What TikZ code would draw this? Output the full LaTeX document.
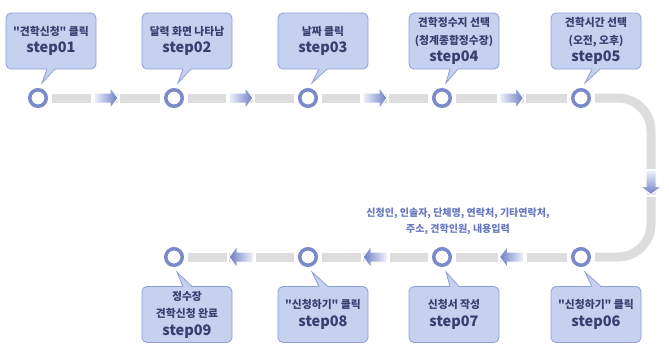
\documentclass[tikz,border=0pt]{standalone}
\usepackage{fontspec}
\setmainfont{Noto Sans CJK KR}[Ligatures=TeXOff]
\usetikzlibrary{calc}
\definecolor{boxfill}{HTML}{C6D1EF}
\definecolor{boxline}{HTML}{8E9ED6}
\definecolor{circ}{HTML}{7A89C9}
\definecolor{txt}{HTML}{363F6F}
\definecolor{ann}{HTML}{6677C0}
\definecolor{barg}{HTML}{DDDDDD}
\definecolor{alight}{HTML}{F0F2FB}
\definecolor{ablue}{HTML}{6B7DC4}
\newcommand\stplabel[1]{{\fontsize{14.5}{17}\selectfont\bfseries #1}}
\tikzset{
  box/.style={draw=boxline, fill=boxfill, rounded corners=5pt, minimum width=90pt,
    minimum height=56pt, inner sep=0pt, align=center, text=txt,
    font=\fontsize{10.8}{17.5}\selectfont\bfseries, line width=0.8pt},
  dot/.style={circle, draw=circ, line width=3.5pt, fill=white, minimum size=16.5pt, inner sep=0pt},
  bar/.style={draw=barg, line width=9pt, shorten <=4pt, shorten >=4pt},
  ptrfill/.style={fill=boxfill},
  ptrline/.style={draw=boxline, line width=0.8pt, line join=miter},
  rarrow/.pic={
    \fill[white] (-15,-5.5) rectangle (-12,5.5);
    \fill[white] (12,-5.5) rectangle (14,5.5);
    \path[left color=alight, right color=ablue, draw=white, line width=1pt]
      (-12,-5) -- (4,-5) -- (4,-11) -- (12,0) -- (4,11) -- (4,5) -- (-12,5) -- cycle;
  },
  larrow/.pic={
    \fill[white] (15,-5.5) rectangle (12,5.5);
    \fill[white] (-12,-5.5) rectangle (-14,5.5);
    \path[left color=ablue, right color=alight, draw=white, line width=1pt]
      (12,-5) -- (-4,-5) -- (-4,-11) -- (-12,0) -- (-4,11) -- (-4,5) -- (12,5) -- cycle;
  },
  darrow/.pic={
    \fill[white] (-5.5,14) rectangle (5.5,12);
    \fill[white] (-5.5,-12) rectangle (5.5,-14);
    \path[top color=alight, bottom color=ablue, draw=white, line width=1pt]
      (-5,12) -- (-5,-4) -- (-11,-4) -- (0,-12) -- (11,-4) -- (5,-4) -- (5,12) -- cycle;
  }
}
\begin{document}
\begin{tikzpicture}[x=1pt,y=1pt]
\useasboundingbox (0,0) rectangle (669,-360);

% circles
\node[dot] (c1) at (38,-98) {};
\node[dot] (c2) at (174,-98) {};
\node[dot] (c3) at (308,-98) {};
\node[dot] (c4) at (442,-98) {};
\node[dot] (c5) at (581,-98) {};
\node[dot] (c6) at (581,-257) {};
\node[dot] (c7) at (442,-257) {};
\node[dot] (c8) at (308,-257) {};
\node[dot] (c9) at (174,-257) {};
\coordinate (k1) at (651,-98);
\coordinate (k2) at (651,-257);

% track
\draw[bar] (c1) -- (c2);
\draw[bar] (c2) -- (c3);
\draw[bar] (c3) -- (c4);
\draw[bar] (c4) -- (c5);
\draw[bar, rounded corners=33pt] (c5) -- (k1) -- (k2) -- (c6);
\draw[bar] (c6) -- (c7);
\draw[bar] (c7) -- (c8);
\draw[bar] (c8) -- (c9);

% arrows
\pic at ($(c1)!0.5!(c2)$) {rarrow};
\pic at ($(c2)!0.5!(c3)$) {rarrow};
\pic at ($(c3)!0.5!(c4)$) {rarrow};
\pic at ($(c4)!0.5!(c5)$) {rarrow};
\pic at (651,-182.5) {darrow};
\pic at ($(c6)!0.5!(c7)$) {larrow};
\pic at ($(c7)!0.5!(c8)$) {larrow};
\pic at ($(c8)!0.5!(c9)$) {larrow};

% boxes top
\node[box] (b1) at (51,-41) {"견학신청" 클릭\\\stplabel{step01}};
\node[box] (b2) at (187,-41) {달력 화면 나타남\\\stplabel{step02}};
\node[box] (b3) at (323,-41) {날짜 클릭\\\stplabel{step03}};
\node[box] (b4) at (454,-41) {견학정수지 선택\\(청계종합정수장)\\\stplabel{step04}};
\node[box] (b5) at (596,-41) {견학시간 선택\\(오전, 오후)\\\stplabel{step05}};
% boxes bottom
\node[box] (b6) at (596,-314.5) {"신청하기" 클릭\\\stplabel{step06}};
\node[box] (b7) at (454,-314.5) {신청서 작성\\\stplabel{step07}};
\node[box] (b8) at (323,-314.5) {"신청하기" 클릭\\\stplabel{step08}};
\node[box] (b9) at (187,-314.5) {정수장\\견학신청 완료\\\stplabel{step09}};

% pointer tips
\coordinate (t1) at (42,-83);
\coordinate (t2) at (178,-83);
\coordinate (t3) at (312,-83);
\coordinate (t4) at (446,-83);
\coordinate (t5) at (585,-83);
\coordinate (t6) at (585,-272);
\coordinate (t7) at (446,-272);
\coordinate (t8) at (312,-272);
\coordinate (t9) at (177,-272);

\foreach \b/\t in {b1/t1,b2/t2,b3/t3,b4/t4,b5/t5}{
  \fill[ptrfill] ($(\b.south)+(-4,1.2)$) -- (\t) -- ($(\b.south)+(4,1.2)$) -- cycle;
  \draw[ptrline] ($(\b.south)+(-4,0.4)$) -- (\t) -- ($(\b.south)+(4,0.4)$);
}
\foreach \b/\t in {b6/t6,b7/t7,b8/t8,b9/t9}{
  \fill[ptrfill] ($(\b.north)+(-4,-1.2)$) -- (\t) -- ($(\b.north)+(5,-1.2)$) -- cycle;
  \draw[ptrline] ($(\b.north)+(-4,-0.4)$) -- (\t) -- ($(\b.north)+(5,-0.4)$);
}

% annotation
\node[align=center, text=ann, font=\fontsize{10}{16}\selectfont\bfseries, inner sep=0pt] (note) at (458,-221)
  {신청인, 인솔자, 단체명, 연락처, 기타연락처,\\주소, 견학인원, 내용입력};
\end{tikzpicture}
\end{document}
